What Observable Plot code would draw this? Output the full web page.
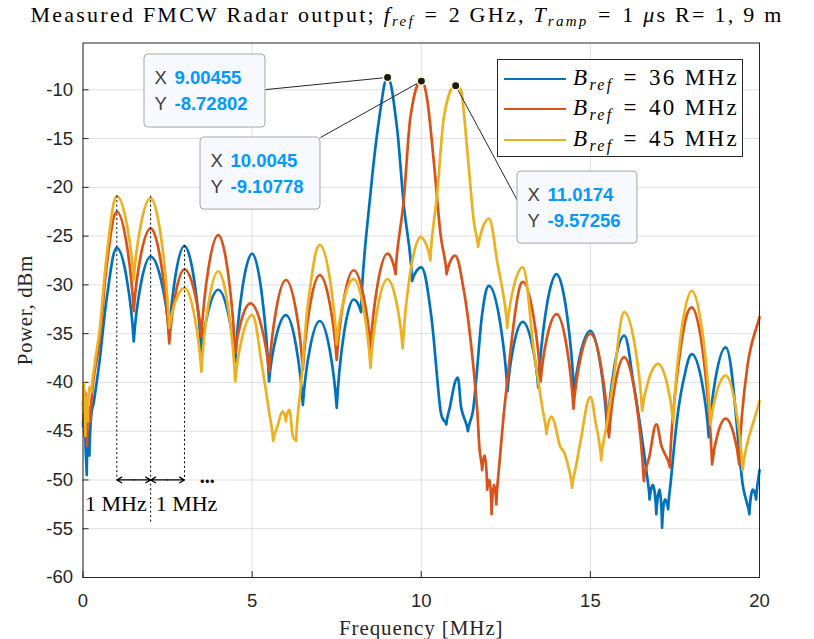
<!DOCTYPE html>
<html><head><meta charset="utf-8">
<script src="https://cdn.jsdelivr.net/npm/d3@7"></script>
<script src="https://cdn.jsdelivr.net/npm/@observablehq/plot@0.6"></script>
<style>
body{margin:0;background:#fff;}
#wrap{position:relative;width:814px;height:639px;overflow:hidden;}
#title{position:absolute;left:0;width:814px;top:1px;text-align:center;font-family:"Liberation Serif","DejaVu Serif",serif;font-size:22px;color:#000;white-space:nowrap;line-height:28px;}
#title span.t{display:inline-block;}
#title sub{font-size:15px;vertical-align:-4px;line-height:0;}
#legend{position:absolute;left:497px;top:59px;width:246px;height:98px;border:1px solid #262626;background:#fff;box-sizing:border-box;}
.lrow{position:absolute;left:0;height:30px;width:240px;}
.lrow .sw{position:absolute;left:6px;top:15px;width:62px;height:2px;}
.lrow .tx{position:absolute;left:75px;top:0;font-family:"Liberation Serif","DejaVu Serif",serif;font-size:23px;line-height:30px;white-space:nowrap;color:#000;}
.lrow sub{font-size:16px;vertical-align:-5px;line-height:0;}
</style></head><body>
<div id="wrap"><div id="chart"></div>
<div id="title"><span class="t">Measured FMCW Radar output; <i>f</i><sub><i>ref</i></sub>&#8196;=&#8196;2 GHz, <i>T</i><sub><i>ramp</i></sub>&#8196;=&#8196;1 <i>μ</i>s R= 1<i>,</i> 9 m</span></div>
<div id="legend"></div>
</div>
<script>
// ---- data ----
const bandwidths = ["36", "40", "45"];
const colors = ["#0072BD", "#D95319", "#EDB120"];

const freq36 = [0,0.04,0.08,0.11,0.15,0.19,0.24,0.32,0.5,0.7,1.0,1.5,2.0,2.55,3.0,3.5,4.0,4.5,5.0,5.5,6.0,6.5,7.0,7.5,8.0,8.22,8.5,8.79,9.0045,9.28,9.48,9.73,10.0,10.3,10.57,10.74,10.85,10.98,11.08,11.18,11.38,11.53,11.63,11.8,12.0,12.55,13.0,13.46,14.0,14.52,15.0,15.5,16.0,16.28,16.48,16.68,16.75,16.85,16.95,17.05,17.12,17.2,17.3,17.37,17.57,17.77,18.0,18.5,19.0,19.5,19.6,19.7,19.8,19.9,20.0];
const pow36  = [-44.5,-41.5,-47,-49.5,-45,-47.5,-43.5,-42,-37.5,-31.4,-26.2,-35.8,-27.1,-35.1,-26.0,-37.0,-30.5,-37.9,-26.8,-39.9,-33.1,-42.3,-33.7,-42.6,-31.5,-32.8,-20.6,-12.1,-8.728,-13.8,-21.7,-29.6,-28.2,-33.3,-42.9,-44.3,-42.5,-40.2,-39.5,-42.6,-45.0,-42.9,-39.5,-33.0,-30.1,-40.9,-33.8,-40.5,-28.9,-41.2,-34.7,-45.0,-35.2,-40.2,-44.6,-49.7,-52,-50.5,-53.5,-51,-54.9,-52,-53,-50.4,-43.6,-39.5,-37.1,-45.6,-36.4,-50.4,-52,-53.5,-51,-52,-49];

const freq40 = [0,0.04,0.08,0.12,0.17,0.22,0.3,0.5,0.7,1.0,1.5,2.0,2.55,3.0,3.5,4.0,4.5,4.95,5.5,6.0,6.5,7.0,7.5,8.0,8.5,9.0,9.24,9.48,9.68,10.0045,10.18,10.37,10.57,10.75,11.0,11.26,11.46,11.65,11.72,11.8,11.88,11.95,12.02,12.08,12.15,12.22,12.3,12.44,12.64,12.83,13.0,13.53,14.0,14.5,15.0,15.55,16.0,16.58,16.75,16.95,17.1,17.35,17.66,18.0,18.6,19.0,19.4,19.64,20.0];
const pow40  = [-42,-45.5,-41,-46.5,-42.5,-44,-40,-35.5,-28,-22.5,-32.7,-24.2,-36.0,-28.4,-35.3,-24.9,-37.0,-31.9,-38.9,-29.5,-38.7,-29.0,-37.7,-28.5,-36.5,-26.8,-28.9,-21.4,-12.8,-9.108,-11.1,-17.3,-24.8,-28.9,-27.0,-30.6,-35.7,-42.6,-46.7,-49,-47.5,-51,-50,-53.5,-50.5,-52.5,-48.7,-43.2,-36.7,-31.6,-29.7,-39.9,-33.0,-42.7,-35.0,-45.6,-37.4,-50.1,-47.5,-44.3,-46.5,-48.7,-36.7,-32.3,-48.4,-43.7,-48.4,-38.4,-33.3];

const freq45 = [0,0.03,0.07,0.1,0.14,0.18,0.25,0.35,0.5,0.7,1.0,1.5,2.0,2.55,3.0,3.5,4.0,4.5,5.0,5.3,5.5,5.62,5.75,5.9,6.0,6.1,6.2,6.3,6.45,6.65,7.0,7.5,8.0,8.5,9.0,9.45,9.98,10.27,10.47,10.67,11.0174,11.19,11.36,11.55,11.68,12.0,12.24,12.54,13.0,13.33,13.58,13.7,13.85,13.95,14.1,14.25,14.46,14.58,14.71,15.0,15.15,15.32,15.5,15.69,16.0,16.53,17.0,17.45,18.0,18.55,19.0,19.5,20.0];
const pow45  = [-43,-40,-45.5,-41.5,-44,-40.5,-41,-38,-34.4,-27,-20.9,-29.5,-21.1,-34.4,-30.3,-38.9,-28.6,-39.9,-33.1,-38.5,-43,-46,-44.5,-43,-44,-42.8,-45.5,-46,-40,-32,-25.9,-36.1,-29.4,-38.5,-29.4,-36.5,-25.1,-27.5,-20.7,-12.8,-9.573,-10.2,-16.2,-23.4,-26.1,-23.2,-27.5,-34.4,-28.2,-36.8,-42.6,-45.3,-43.5,-44.3,-46.5,-47.4,-50.8,-48.5,-46.0,-41.5,-44,-48.0,-44,-39.5,-32.8,-42.9,-38.1,-44.1,-30.6,-44.3,-39.3,-49.0,-41.9];

const tipFreq = [9.00455, 10.0045, 11.0174];
const tipPow  = [-8.72802, -9.10778, -9.57256];

const xTicks = [0, 5, 10, 15, 20];
const yTicks = [-60, -55, -50, -45, -40, -35, -30, -25, -20, -15, -10];

// ---- layout (annotation placement) ----
const tipBoxes = [
  {x1: 1.818, x2: 5.395, y1: -6.38,  y2: -13.87, lx: 5.395,  ly: -9.98},
  {x1: 3.474, x2: 7.021, y1: -14.89, y2: -22.28, lx: 7.021,  ly: -14.89},
  {x1: 12.845, x2: 16.393, y1: -18.38, y2: -25.77, lx: 12.845, ly: -21.36}
];

const series = [[freq36, pow36], [freq40, pow40], [freq45, pow45]]
  .map(([xs, ys], k) => xs.map((x, i) => ({x, y: ys[i], k})));

const tips = tipFreq.map((f, i) => ({
  f, p: tipPow[i], ...tipBoxes[i],
  r1: tipBoxes[i].y1 - 2.46, r2: tipBoxes[i].y1 - 5.08,
  xs: String(f), ys: String(tipPow[i])
}));

// curve: rounded arches at spectral peaks, narrow notches at the nulls between them
function archCurve(context) {
  let pts;
  return {
    areaStart() {}, areaEnd() {},
    lineStart() { pts = []; },
    point(x, y) { pts.push([+x, +y]); },
    lineEnd() {
      const n = pts.length;
      if (!n) return;
      context.moveTo(pts[0][0], pts[0][1]);
      if (n === 1) return;
      const type = pts.map((p, i) => {
        if (i === 0 || i === n - 1) return "end";
        const a = pts[i - 1][1], b = pts[i + 1][1], y = p[1];
        if (y < a && y < b) return "max";
        if (y > a && y > b) return "min";
        return "mid";
      });
      const slope = i => {
        const a = pts[Math.max(0, i - 1)], b = pts[Math.min(n - 1, i + 1)];
        return (b[1] - a[1]) / (b[0] - a[0]);
      };
      const clamp = (v, a, b) => Math.max(Math.min(a, b), Math.min(Math.max(a, b), v));
      for (let i = 1; i < n; i++) {
        const [x0, y0] = pts[i - 1], [x1, y1] = pts[i];
        const dx = x1 - x0, dy = y1 - y0;
        let c1x, c1y, c2x, c2y;
        const t0 = type[i - 1], t1 = type[i];
        if (t0 === "min") { c1x = x0 + 0.14 * dx; c1y = y0 + 0.42 * dy; }
        else if (t0 === "max") { c1x = x0 + 0.4 * dx; c1y = y0; }
        else { c1x = x0 + dx / 3; c1y = clamp(y0 + slope(i - 1) * dx / 3, y0, y1); }
        if (t1 === "min") { c2x = x1 - 0.14 * dx; c2y = y1 - 0.42 * dy; }
        else if (t1 === "max") { c2x = x1 - 0.4 * dx; c2y = y1; }
        else { c2x = x1 - dx / 3; c2y = clamp(y1 - slope(i) * dx / 3, y0, y1); }
        context.bezierCurveTo(c1x, c1y, c2x, c2y, x1, y1);
      }
    }
  };
}

const grid = {stroke: "#262626", strokeOpacity: 0.14, strokeWidth: 1};
const sans = "Liberation Sans, Arial, Helvetica, sans-serif";
const serif = "Liberation Serif, DejaVu Serif, serif";

const chart = Plot.plot({
  width: 814, height: 639,
  marginLeft: 82.5, marginRight: 55, marginTop: 42.5, marginBottom: 62,
  x: {domain: [0, 20]},
  y: {domain: [-60, -5.2]},
  style: {fontFamily: sans, fontSize: "18px", color: "#262626", background: "transparent", overflow: "visible"},
  marks: [
    Plot.gridX(xTicks, grid),
    Plot.gridY(yTicks, grid),
    Plot.ruleY(yTicks, {x1: 0, x2: 0.18, stroke: "#262626"}),
    Plot.ruleX(xTicks, {y1: -60, y2: -59.4, stroke: "#262626"}),
    Plot.axisX(xTicks, {tickSize: 0, tickPadding: 16, label: null, fontSize: 18.5, tickFormat: d => String(d)}),
    Plot.axisY(yTicks, {tickSize: 0, tickPadding: 10, label: null, fontSize: 18.5, tickFormat: d => String(d)}),
    ...series.map((rows, k) => Plot.line(rows, {x: "x", y: "y", stroke: colors[k], strokeWidth: 2.7, curve: archCurve})),
    // dotted guide lines and spacing arrows
    Plot.ruleX([1, 2, 3], {x: d => d, y1: d => d === 3 ? -26.0 : -20.9, y2: d => d === 2 ? -54.6 : -50, stroke: "#000", strokeWidth: 1, strokeDasharray: "2,2.5"}),
    Plot.arrow([[1.5, 1], [1.5, 2], [2.5, 2], [2.5, 3]], {x1: d => d[0], x2: d => d[1], y1: -50, y2: -50, stroke: "#000", strokeWidth: 1.3, headLength: 8, insetStart: 0, insetEnd: 0}),
    Plot.text(["1 MHz"], {x: 2, y: -52.45, dx: -4, textAnchor: "end", fontFamily: serif, fontSize: 22, fill: "#000"}),
    Plot.text(["1 MHz"], {x: 2, y: -52.45, dx: 5, textAnchor: "start", fontFamily: serif, fontSize: 22, fill: "#000"}),
    Plot.text(["..."], {x: 3.67, y: -50, lineAnchor: "bottom", dy: 3, fontFamily: serif, fontSize: 20, fontWeight: "bold", fill: "#000"}),
    // axis titles
    Plot.text(["Frequency [MHz]"], {frameAnchor: "bottom", textAnchor: "middle", lineAnchor: "middle", dy: 51, fontFamily: serif, fontSize: 21, fill: "#262626"}),
    Plot.text(["Power, dBm"], {frameAnchor: "left", textAnchor: "middle", lineAnchor: "middle", dx: -58, rotate: -90, fontFamily: serif, fontSize: 21, fill: "#262626"}),
    // data tips
    Plot.link(tips, {x1: "lx", y1: "ly", x2: "f", y2: "p", stroke: "#262626", strokeWidth: 1}),
    Plot.rect(tips, {x1: "x1", x2: "x2", y1: "y1", y2: "y2", fill: "#f8f8ff", stroke: "#a6a6a6", rx: 4}),
    Plot.text(tips, {x: "x1", y: "r1", text: () => "X", dx: 10, textAnchor: "start", fontFamily: sans, fontSize: 18.5, fill: "#404040"}),
    Plot.text(tips, {x: "x1", y: "r2", text: () => "Y", dx: 10, textAnchor: "start", fontFamily: sans, fontSize: 18.5, fill: "#404040"}),
    Plot.text(tips, {x: "x1", y: "r1", text: "xs", dx: 30, textAnchor: "start", fontFamily: sans, fontSize: 18.5, fontWeight: "bold", fill: "#0099ff"}),
    Plot.text(tips, {x: "x1", y: "r2", text: "ys", dx: 30, textAnchor: "start", fontFamily: sans, fontSize: 18.5, fontWeight: "bold", fill: "#0099ff"}),
    Plot.dot(tips, {x: "f", y: "p", r: 4.2, fill: "#1a1a1a", stroke: "#fff8c8", strokeWidth: 1.5}),
    Plot.frame({stroke: "#262626", strokeWidth: 1})
  ]
});
document.getElementById("chart").appendChild(chart);

chart.querySelectorAll("text").forEach(t => {
  if (t.textContent === "Frequency [MHz]") t.style.letterSpacing = "0.9px";
  if (t.textContent === "Power, dBm") t.style.letterSpacing = "0.6px";
});

// legend
const leg = document.getElementById("legend");
const rowTops = [2.5, 33, 64];
bandwidths.forEach((b, k) => {
  const row = document.createElement("div");
  row.className = "lrow";
  row.style.top = rowTops[k] + "px";
  row.innerHTML = `<div class="sw" style="background:${colors[k]}"></div><div class="tx"><i>B</i><sub><i>ref</i></sub>&#8196;=&#8196;${b} MHz</div>`;
  leg.appendChild(row);
});

// stretch LaTeX-like texts to the reference widths via letter spacing
function fit(el, target) {
  const w = el.getBoundingClientRect().width;
  const n = el.textContent.length;
  el.style.letterSpacing = ((target - w) / n) + "px";
}
fit(document.querySelector("#title span.t"), 753);
document.querySelectorAll(".lrow .tx").forEach(el => fit(el, 166));
</script>
</body></html>
